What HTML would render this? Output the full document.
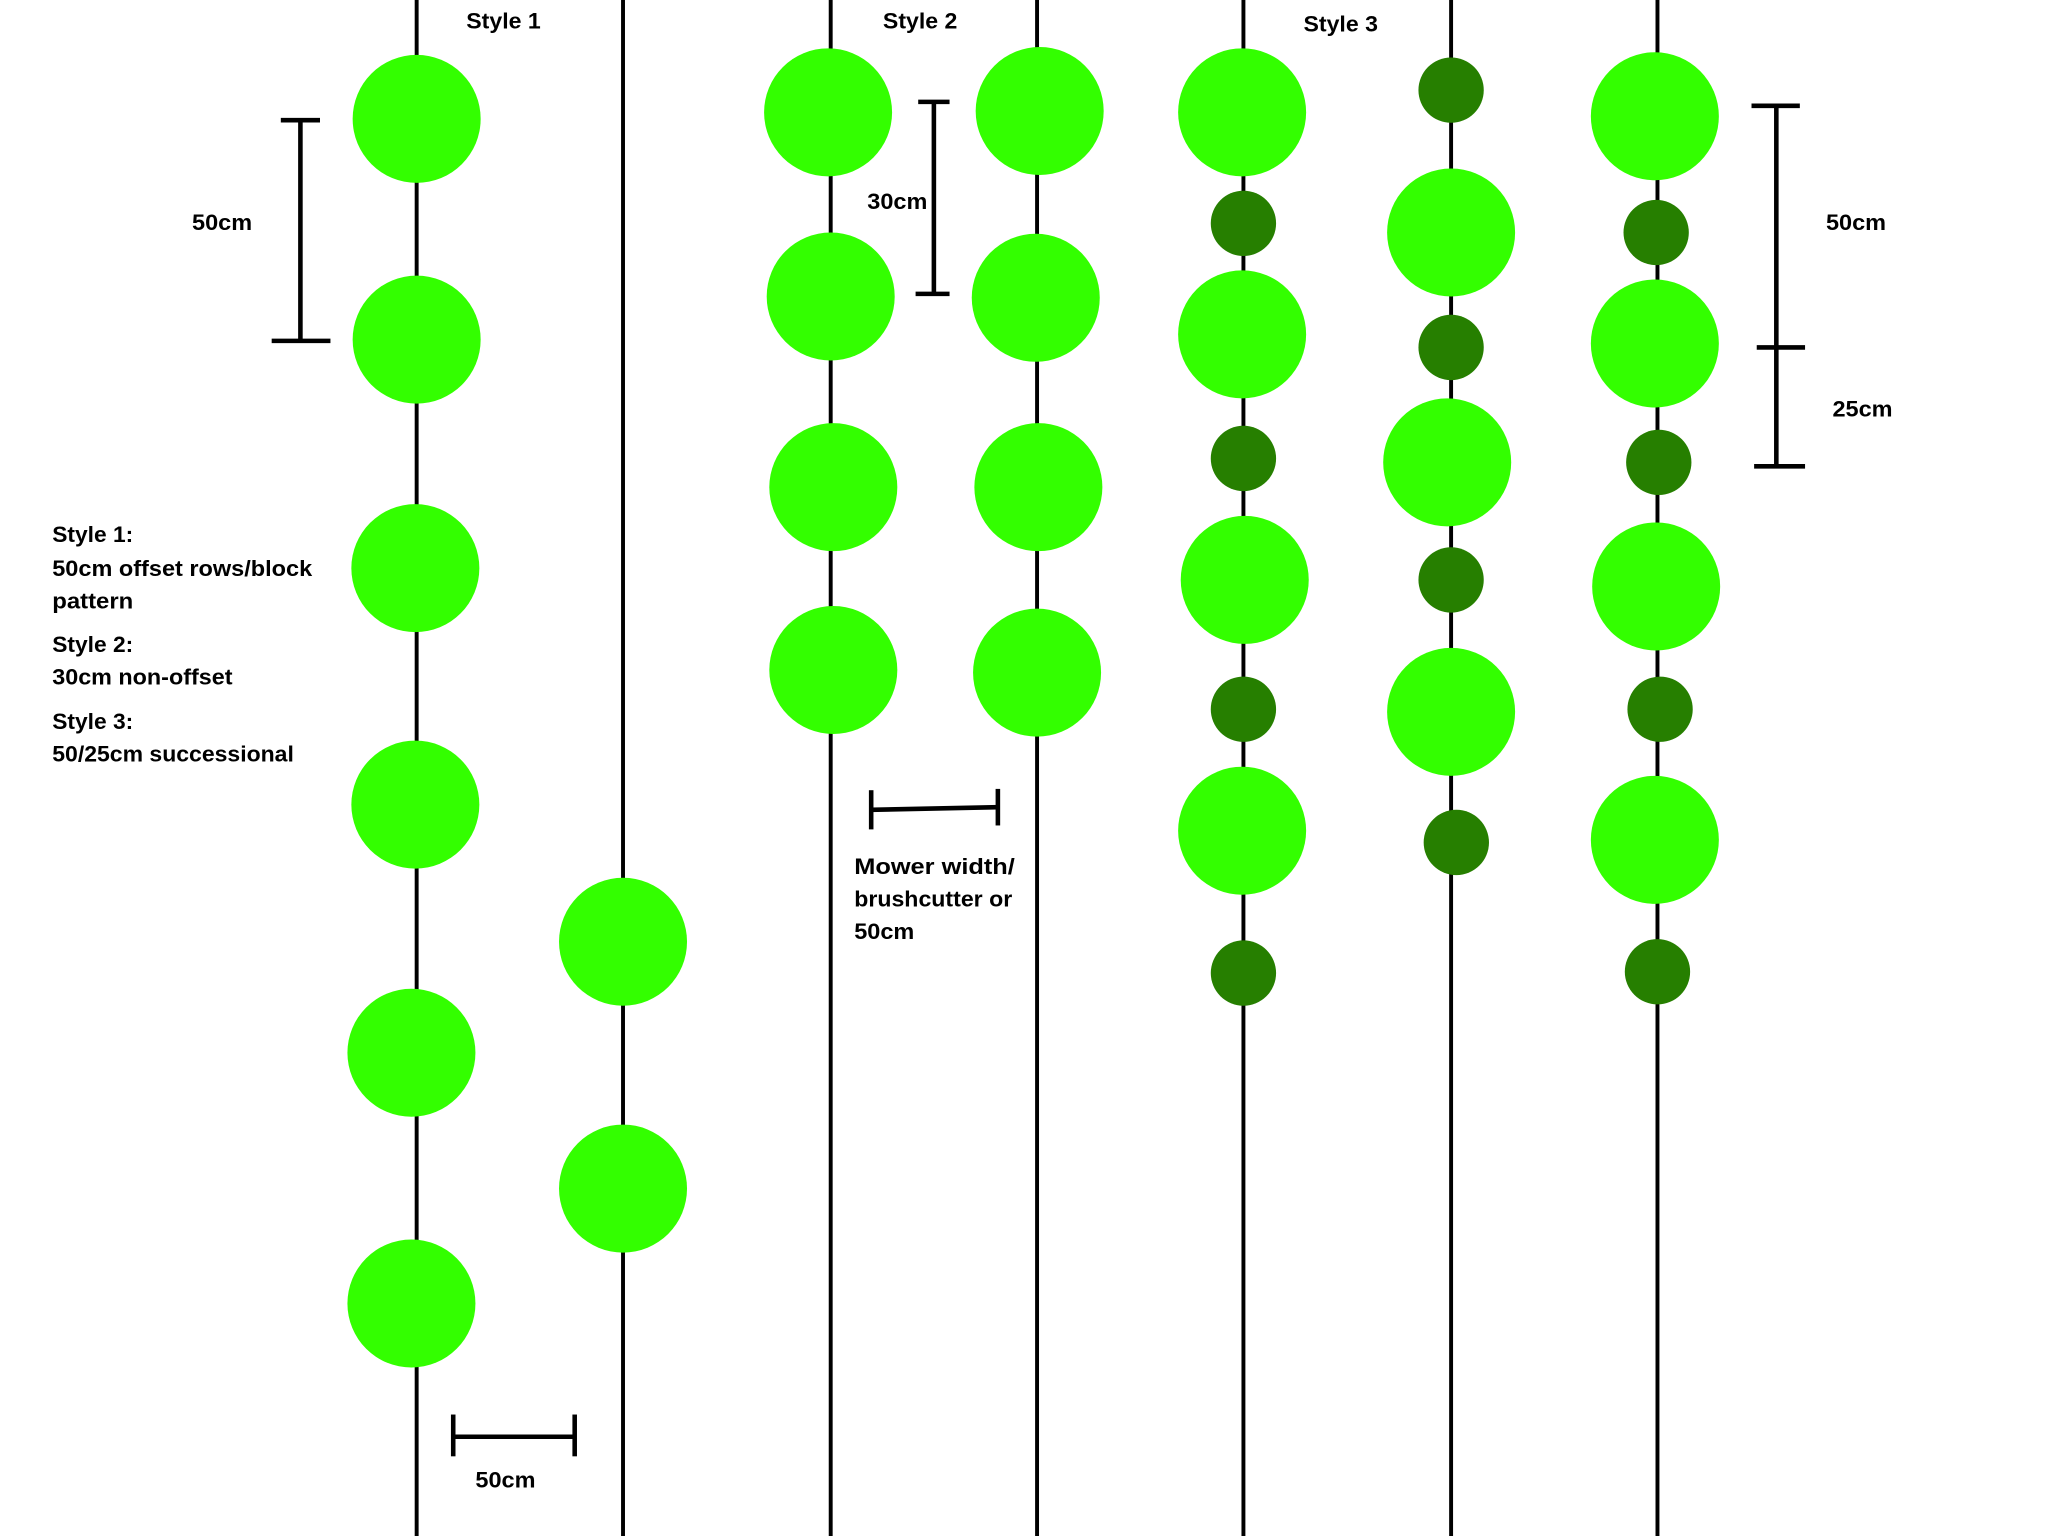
<!DOCTYPE html>
<html><head><meta charset="utf-8"><style>
html,body{margin:0;padding:0;background:#fff;}
svg{display:block;}
text{font-family:"Liberation Sans",sans-serif;font-weight:bold;font-size:17px;fill:#000;}
</style></head><body>
<svg width="2048" height="1536" viewBox="0 0 1568 1176" preserveAspectRatio="none" xmlns="http://www.w3.org/2000/svg">
<rect width="1568" height="1176" fill="#fff"/>
<g stroke="#000" stroke-width="3">
<line x1="319" y1="0" x2="319" y2="1176"/>
<line x1="477" y1="0" x2="477" y2="1176"/>
<line x1="636" y1="0" x2="636" y2="1176"/>
<line x1="794" y1="0" x2="794" y2="1176"/>
<line x1="952" y1="0" x2="952" y2="1176"/>
<line x1="1111" y1="0" x2="1111" y2="1176"/>
<line x1="1269" y1="0" x2="1269" y2="1176"/>
</g>
<g fill="#33ff00">
<circle cx="319" cy="91" r="49"/><circle cx="319" cy="260" r="49"/><circle cx="318" cy="435" r="49"/>
<circle cx="318" cy="616" r="49"/><circle cx="315" cy="806" r="49"/><circle cx="315" cy="998" r="49"/>
<circle cx="477" cy="721" r="49"/><circle cx="477" cy="910" r="49"/>
<circle cx="634" cy="86" r="49"/><circle cx="636" cy="227" r="49"/><circle cx="638" cy="373" r="49"/><circle cx="638" cy="513" r="49"/>
<circle cx="796" cy="85" r="49"/><circle cx="793" cy="228" r="49"/><circle cx="795" cy="373" r="49"/><circle cx="794" cy="515" r="49"/>
<circle cx="951" cy="86" r="49"/><circle cx="951" cy="256" r="49"/><circle cx="953" cy="444" r="49"/><circle cx="951" cy="636" r="49"/>
<circle cx="1111" cy="178" r="49"/><circle cx="1108" cy="354" r="49"/><circle cx="1111" cy="545" r="49"/>
<circle cx="1267" cy="89" r="49"/><circle cx="1267" cy="263" r="49"/><circle cx="1268" cy="449" r="49"/><circle cx="1267" cy="643" r="49"/>
</g>
<g fill="#267f00">
<circle cx="952" cy="171" r="25"/><circle cx="952" cy="351" r="25"/><circle cx="952" cy="543" r="25"/><circle cx="952" cy="745" r="25"/>
<circle cx="1111" cy="69" r="25"/><circle cx="1111" cy="266" r="25"/><circle cx="1111" cy="444" r="25"/><circle cx="1115" cy="645" r="25"/>
<circle cx="1268" cy="178" r="25"/><circle cx="1270" cy="354" r="25"/><circle cx="1271" cy="543" r="25"/><circle cx="1269" cy="744" r="25"/>
</g>
<g stroke="#000" stroke-width="3.5" fill="none">
<line x1="230" y1="92" x2="230" y2="261"/><line x1="215" y1="92" x2="245" y2="92"/><line x1="208" y1="261" x2="253" y2="261"/>
<line x1="715" y1="78" x2="715" y2="225"/><line x1="703" y1="78" x2="727" y2="78"/><line x1="701" y1="225" x2="727" y2="225"/>
<line x1="1360" y1="81" x2="1360" y2="357"/><line x1="1341" y1="81" x2="1378" y2="81"/><line x1="1345" y1="266" x2="1382" y2="266"/><line x1="1343" y1="357" x2="1382" y2="357"/>
<line x1="347" y1="1100" x2="440" y2="1100"/><line x1="347" y1="1083" x2="347" y2="1115"/><line x1="440" y1="1083" x2="440" y2="1115"/>
<line x1="667" y1="620" x2="764" y2="618"/><line x1="667" y1="605" x2="667" y2="635"/><line x1="764" y1="604" x2="764" y2="632"/>
</g>
<text x="357" y="22" textLength="57" lengthAdjust="spacingAndGlyphs">Style 1</text>
<text x="676" y="22" textLength="57" lengthAdjust="spacingAndGlyphs">Style 2</text>
<text x="998" y="24" textLength="57" lengthAdjust="spacingAndGlyphs">Style 3</text>
<text x="147" y="176" textLength="46" lengthAdjust="spacingAndGlyphs">50cm</text>
<text x="664" y="160" textLength="46" lengthAdjust="spacingAndGlyphs">30cm</text>
<text x="1398" y="176" textLength="46" lengthAdjust="spacingAndGlyphs">50cm</text>
<text x="1403" y="319" textLength="46" lengthAdjust="spacingAndGlyphs">25cm</text>
<text x="364" y="1139" textLength="46" lengthAdjust="spacingAndGlyphs">50cm</text>
<text x="40" y="415" textLength="62" lengthAdjust="spacingAndGlyphs">Style 1:</text>
<text x="40" y="441" textLength="199" lengthAdjust="spacingAndGlyphs">50cm offset rows/block</text>
<text x="40" y="466" textLength="62" lengthAdjust="spacingAndGlyphs">pattern</text>
<text x="40" y="499" textLength="62" lengthAdjust="spacingAndGlyphs">Style 2:</text>
<text x="40" y="524" textLength="138" lengthAdjust="spacingAndGlyphs">30cm non-offset</text>
<text x="40" y="558" textLength="62" lengthAdjust="spacingAndGlyphs">Style 3:</text>
<text x="40" y="583" textLength="185" lengthAdjust="spacingAndGlyphs">50/25cm successional</text>
<text x="654" y="669" textLength="123" lengthAdjust="spacingAndGlyphs">Mower width/</text>
<text x="654" y="694" textLength="121" lengthAdjust="spacingAndGlyphs">brushcutter or</text>
<text x="654" y="719" textLength="46" lengthAdjust="spacingAndGlyphs">50cm</text>
</svg>
</body></html>
